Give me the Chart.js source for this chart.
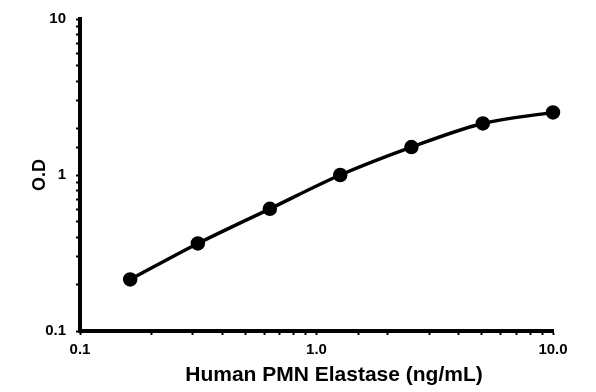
<!DOCTYPE html>
<html><head><meta charset="utf-8">
<script src="https://cdn.jsdelivr.net/npm/chart.js@4/dist/chart.umd.min.js"></script>
<style>html,body{margin:0;padding:0;background:#fff}#wrap{width:596px;height:392px}</style>
</head><body><div id="wrap"><canvas id="c" width="596" height="392"></canvas></div>
<script>
const concentrations = [0.163, 0.315, 0.635, 1.26, 2.52, 5.05, 10];
const odValues = [0.214, 0.364, 0.607, 1.0, 1.51, 2.14, 2.52];
const xTickLabels = {0.1: '0.1', 1: '1.0', 10: '10.0'};
const yTickLabels = {0.1: '0.1', 1: '1', 10: '10'};
const xTitle = 'Human PMN Elastase (ng/mL)';
const yTitle = 'O.D';

const fam = 'Liberation Sans, Arial, sans-serif';
const font = {family: fam, weight: 'bold', size: 15};
function lab(map) {
  return function(v) {
    for (const k in map) { if (Math.abs(v - Number(k)) < 1e-9) return map[k]; }
    return '';
  };
}
new Chart(document.getElementById('c'), {
  type: 'line',
  data: {
    datasets: [{
      data: concentrations.map((x, i) => ({x: x, y: odValues[i]})),
      borderColor: '#000', backgroundColor: '#000',
      borderWidth: 3.5, pointRadius: 5.5, pointHoverRadius: 5.5,
      cubicInterpolationMode: 'monotone', clip: false
    }]
  },
  options: {
    responsive: false, animation: false,
    plugins: {legend: {display: false}, tooltip: {enabled: false}},
    layout: {padding: {top: 17, right: 43, left: 0, bottom: 0}},
    scales: {
      x: {
        type: 'logarithmic', min: 0.1, max: 10,
        border: {color: '#000', width: 4},
        grid: {drawOnChartArea: false, drawTicks: true, tickLength: 4, tickColor: '#000', tickWidth: 2},
        ticks: {color: '#000', font: font, autoSkip: false, maxRotation: 0, padding: 6, callback: lab(xTickLabels)},
        title: {display: true, text: '      ' + xTitle, color: '#000', font: {family: fam, weight: 'bold', size: 21}, padding: {top: 3}},
        afterFit: s => { s.height = 61; }
      },
      y: {
        type: 'logarithmic', min: 0.1, max: 10,
        border: {color: '#000', width: 4},
        grid: {drawOnChartArea: false, drawTicks: true, tickLength: 4, tickColor: '#000', tickWidth: 2},
        ticks: {color: '#000', font: font, autoSkip: false, padding: 10, callback: lab(yTickLabels)},
        title: {display: true, text: yTitle, color: '#000', font: {family: fam, weight: 'bold', size: 18}, padding: {top: 29}},
        afterFit: s => { s.width = 80; }
      }
    }
  }
});
</script></body></html>
